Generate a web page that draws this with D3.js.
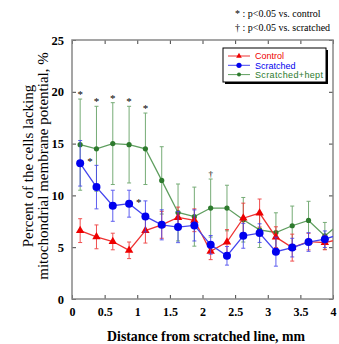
<!DOCTYPE html>
<html>
<head>
<meta charset="utf-8">
<script src="https://cdn.jsdelivr.net/npm/d3@7"></script>
<style>
  body { margin: 0; background: #fff; }
  svg { display: block; }
</style>
</head>
<body>
<div id="chart"></div>
<script>
// distances (mm), centres of 0.25 mm bins; last one sits past the axis and gets clipped
const distance = [0.125, 0.375, 0.625, 0.875, 1.125, 1.375, 1.625, 1.875,
  2.125, 2.375, 2.625, 2.875, 3.125, 3.375, 3.625, 3.875, 4.125];

const control = [6.6, 6.0, 5.55, 4.7, 6.6, 7.16, 7.87, 7.6, 4.6, 5.5, 7.8, 8.3, 5.97, 4.96, 5.54, 5.45, 5.8];
const controlErr = [1.15, 1.15, 0.8, 0.8, 1.2, 1.3, 1.0, 1.1, 0.8, 1.2, 1.45, 1.35, 1.0, 1.3, 0.8, 0.7, 0.7];

const scratched = [13.1, 10.8, 9.0, 9.2, 7.97, 7.16, 6.94, 7.1, 5.23, 4.17, 6.1, 6.36, 4.57, 4.96, 5.5, 5.77, 6.3];
const scratchedErr = [2.2, 2.1, 1.5, 1.3, 1.5, 1.45, 1.5, 1.5, 0.9, 0.9, 1.2, 0.9, 1.4, 0.9, 0.9, 0.8, 0.8];

const hept = [14.9, 14.5, 15.0, 14.9, 14.5, 11.45, 8.35, 7.95, 8.78, 8.78, 7.65, 6.67, 6.42, 7.07, 7.58, 6.09, 7.4];
const heptErr = [4.4, 4.1, 3.95, 3.7, 3.45, 3.25, 2.75, 2.85, 2.8, 2.2, 2.15, 1.7, 1.9, 1.9, 1.85, 1.3, 1.3];

const xTicks = [0, 0.5, 1, 1.5, 2, 2.5, 3, 3.5, 4];
const yTicks = [0, 5, 10, 15, 20, 25];

// significance marks: index into distance, which series it sits by
const starsVsControl = [0, 1, 2, 3, 4];   // above hept error bars
const starsScratched = [0, 3];            // right of scratched points
const daggers = [8];                      // above hept error bar

const margin = { top: 40, right: 6, bottom: 45, left: 72 };
const W = 339, H = 344;
const width = W - margin.left - margin.right;
const height = H - margin.top - margin.bottom;

const svg = d3.select('#chart').append('svg')
  .attr('width', W).attr('height', H);

const g = svg.append('g')
  .attr('transform', `translate(${margin.left}, ${margin.top})`);

const x = d3.scaleLinear().domain([0, 4]).range([0, width]);
const y = d3.scaleLinear().domain([0, 25]).range([height, 0]);

g.append('clipPath').attr('id', 'clip')
  .append('rect').attr('width', width).attr('height', height + 2).attr('y', -2);

const serif = "'Liberation Serif', 'Times New Roman', serif";
const sans = "'Liberation Sans', Arial, sans-serif";

// axes, ticks pointing inward
const fmt = d3.format('~g');
g.append('g').attr('transform', `translate(0, ${height})`)
  .call(d3.axisBottom(x).tickValues(xTicks).tickFormat(fmt).tickSizeInner(-4).tickSizeOuter(0).tickPadding(8))
  .call(a => a.selectAll('text').style('font', `bold 12px ${serif}`).attr('fill', '#000'));
g.append('g')
  .call(d3.axisTop(x).tickValues(xTicks).tickFormat('').tickSizeInner(-4).tickSizeOuter(0));
g.append('g')
  .call(d3.axisLeft(y).tickValues(yTicks).tickSizeInner(-4).tickSizeOuter(0).tickPadding(8))
  .call(a => a.selectAll('text').style('font', `bold 12.5px ${serif}`).attr('fill', '#000'));
g.append('g').attr('transform', `translate(${width}, 0)`)
  .call(d3.axisRight(y).tickValues(yTicks).tickFormat('').tickSizeInner(-4).tickSizeOuter(0));
g.selectAll('.domain').remove();
g.selectAll('.tick line').attr('stroke', '#444');

g.append('rect')
  .attr('width', width).attr('height', height)
  .attr('fill', 'none').attr('stroke', '#888').attr('stroke-width', 1.5);

// series
const series = [
  { name: 'Scratched+hept', vals: hept, err: heptErr, color: '#2d7a2d', line: '#5f9e5f', shape: 'circle', r: 2.6 },
  { name: 'Control', vals: control, err: controlErr, color: '#ee0000', line: '#ee3333', shape: 'triangle', r: 3.2 },
  { name: 'Scratched', vals: scratched, err: scratchedErr, color: '#0000ee', line: '#4444ee', shape: 'circle', r: 4 }
];

const plot = g.append('g').attr('clip-path', 'url(#clip)');
const line = d3.line().x(d => x(d[0])).y(d => y(d[1]));
const tri = d3.symbol().type(d3.symbolTriangle);

series.forEach(s => {
  const pts = distance.map((d, i) => [d, s.vals[i], s.err[i]]);
  const sg = plot.append('g');
  // error bars
  const eb = sg.selectAll('g.err').data(pts).enter().append('g')
    .attr('stroke', s.line).attr('stroke-width', 1).attr('opacity', 0.85);
  eb.append('line')
    .attr('x1', d => x(d[0])).attr('x2', d => x(d[0]))
    .attr('y1', d => y(d[1] - d[2])).attr('y2', d => y(d[1] + d[2]));
  eb.append('line')
    .attr('x1', d => x(d[0]) - 2).attr('x2', d => x(d[0]) + 2)
    .attr('y1', d => y(d[1] + d[2])).attr('y2', d => y(d[1] + d[2]));
  eb.append('line')
    .attr('x1', d => x(d[0]) - 2).attr('x2', d => x(d[0]) + 2)
    .attr('y1', d => y(d[1] - d[2])).attr('y2', d => y(d[1] - d[2]));
  sg.append('path').datum(pts)
    .attr('d', line).attr('fill', 'none')
    .attr('stroke', s.line).attr('stroke-width', 1.3);
  if (s.shape === 'triangle') {
    sg.selectAll('path.m').data(pts).enter().append('path')
      .attr('d', tri.size(s.r * s.r * 3))
      .attr('transform', d => `translate(${x(d[0])}, ${y(d[1])})`)
      .attr('fill', s.color);
  } else {
    sg.selectAll('circle').data(pts).enter().append('circle')
      .attr('cx', d => x(d[0])).attr('cy', d => y(d[1])).attr('r', s.r)
      .attr('fill', s.color);
  }
});

// significance marks
g.selectAll('text.star').data(starsVsControl).enter().append('text')
  .attr('x', i => x(distance[i])).attr('y', i => y(hept[i] + heptErr[i]) - 1)
  .attr('text-anchor', 'middle').style('font', `11px ${serif}`).text('*');
g.selectAll('text.star2').data(starsScratched).enter().append('text')
  .attr('x', i => x(distance[i]) + 7).attr('y', i => y(scratched[i]) + 2)
  .style('font', `11px ${serif}`).text('*');
g.selectAll('text.dag').data(daggers).enter().append('text')
  .attr('x', i => x(distance[i])).attr('y', i => y(hept[i] + heptErr[i]) - 2)
  .attr('text-anchor', 'middle').style('font', `9px ${serif}`).text('†');

// legend
const lg = svg.append('g').attr('transform', 'translate(223, 48)');
lg.append('rect').attr('x', 2).attr('y', 2).attr('width', 103).attr('height', 34).attr('fill', '#000');
lg.append('rect').attr('width', 103).attr('height', 34).attr('fill', '#fff').attr('stroke', '#000').attr('stroke-width', 1);
const legendOrder = [series[1], series[2], series[0]];
legendOrder.forEach((s, i) => {
  const ly = 8 + i * 9.3;
  lg.append('line').attr('x1', 5).attr('x2', 27).attr('y1', ly).attr('y2', ly)
    .attr('stroke', s.line).attr('stroke-width', 1);
  if (s.shape === 'triangle') {
    lg.append('path').attr('d', d3.symbol().type(d3.symbolTriangle).size(14)())
      .attr('transform', `translate(16, ${ly})`).attr('fill', s.color);
  } else {
    lg.append('circle').attr('cx', 16).attr('cy', ly).attr('r', s.name === 'Scratched' ? 2.6 : 2)
      .attr('fill', s.color);
  }
  lg.append('text').attr('x', 32).attr('y', ly + 3.2)
    .style('font', `9px ${sans}`).attr('fill', s.color)
    .attr('textLength', s.name === 'Scratched+hept' ? 68 : null)
    .text(s.name);
});

// notes at top right
svg.append('text').attr('x', 235).attr('y', 17).style('font', `10px ${serif}`)
  .text('* : p<0.05 vs. control');
svg.append('text').attr('x', 235).attr('y', 31).style('font', `10px ${serif}`)
  .text('† : p<0.05 vs. scratched');

// axis titles
svg.append('text')
  .attr('x', 206).attr('y', 341)
  .attr('text-anchor', 'middle').style('font', `bold 13.8px ${serif}`)
  .text('Distance from scratched line, mm');
const yt = svg.append('text')
  .attr('transform', `translate(0, 166) rotate(-90)`)
  .attr('text-anchor', 'middle').style('font', `15px ${serif}`);
yt.append('tspan').attr('x', 0).attr('y', 32.5).text('Percent of the cells lacking');
yt.append('tspan').attr('x', 0).attr('y', 48).text('mitochondrial membrane potential, %');
</script>
</body>
</html>
